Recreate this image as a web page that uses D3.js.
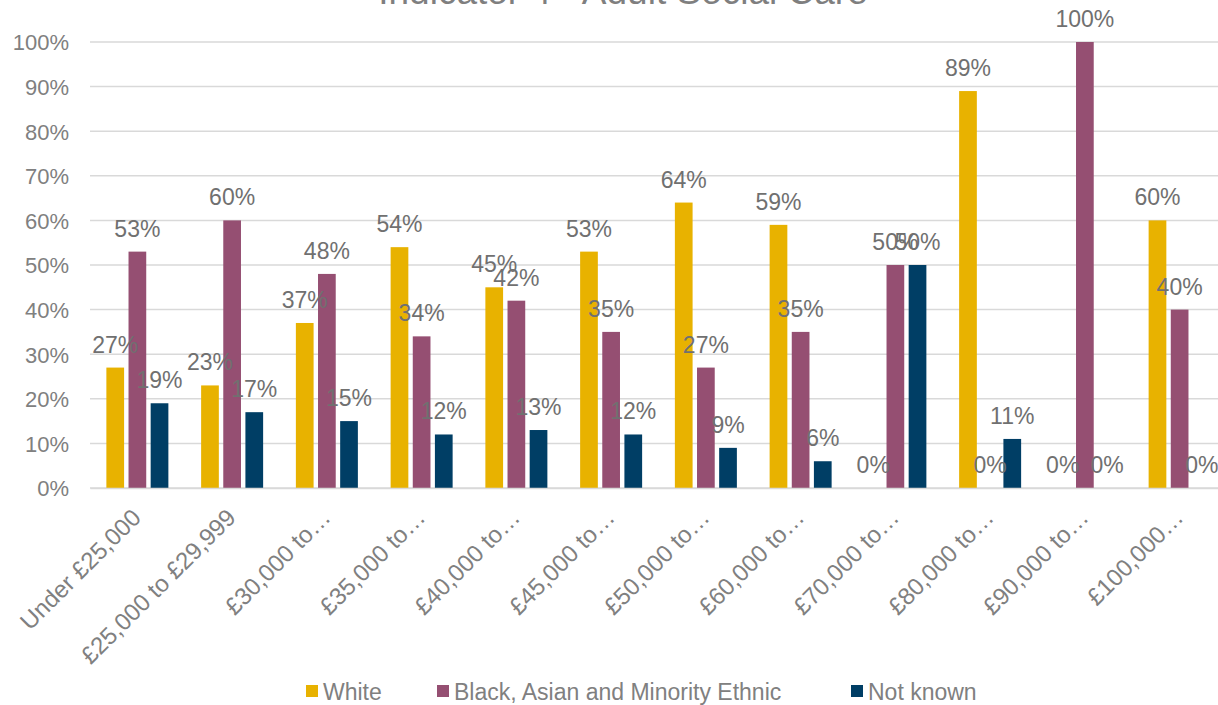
<!DOCTYPE html>
<html><head><meta charset="utf-8">
<script src="https://cdn.jsdelivr.net/npm/d3@7"></script>
<style>body{margin:0;background:#fff;} svg{display:block;font-family:"Liberation Sans",Arial,sans-serif;}</style>
</head><body>
<svg id="c" width="1218" height="705"></svg>
<script>
const title = "Indicator 4 - Adult Social Care";
const categories = ["Under £25,000","£25,000 to £29,999","£30,000 to…","£35,000 to…","£40,000 to…","£45,000 to…","£50,000 to…","£60,000 to…","£70,000 to…","£80,000 to…","£90,000 to…","£100,000…"];
const seriesNames = ["White","Black, Asian and Minority Ethnic","Not known"];
const white = [27,23,37,54,45,53,64,59,0,89,0,60];
const bame = [53,60,48,34,42,35,27,35,50,0,100,40];
const notKnown = [19,17,15,12,13,12,9,6,50,11,0,0];
const yTicks = [0,10,20,30,40,50,60,70,80,90,100];
const colors = ["#E8B200","#954F72","#003E65"];

const series = [white, bame, notKnown];
const svg = d3.select("#c");
const x = d3.scaleBand().domain(categories).range([90, 1227]).paddingInner(0).paddingOuter(0);
const y = d3.scaleLinear().domain([0,100]).range([488, 42]);
const inner = d3.scaleBand().domain([0,1,2]).range([x.bandwidth()/2 - 31, x.bandwidth()/2 + 31]).paddingInner(0.2);

// gridlines
svg.append("g").selectAll("line").data(yTicks).join("line")
  .attr("x1", 90).attr("x2", 1218).attr("y1", d=>y(d)).attr("y2", d=>y(d))
  .attr("stroke", "#d9d9d9").attr("stroke-width", 1.5);

// y axis labels
const yAxis = d3.axisLeft(y).tickValues(yTicks).tickFormat(d=>d+"%").tickSize(0).tickPadding(0);
const yg = svg.append("g").attr("transform","translate(69,0)").call(yAxis);
yg.select(".domain").remove();
yg.selectAll("text").attr("fill","#808080").attr("font-size",22).attr("dy","0.36em")
  .attr("font-family","Liberation Sans, Arial, sans-serif");

// bars
const groups = svg.append("g").selectAll("g").data(categories).join("g")
  .attr("transform", d=>`translate(${x(d)},0)`);
series.forEach((vals, si) => {
  groups.append("rect")
    .attr("x", inner(si)).attr("width", inner.bandwidth())
    .attr("y", (d,i)=>y(vals[i])).attr("height", (d,i)=>y(0)-y(vals[i]))
    .attr("fill", colors[si]);
});
// labels
series.forEach((vals, si) => {
  groups.append("text")
    .attr("x", inner(si) + inner.bandwidth()/2)
    .attr("y", (d,i)=>y(vals[i]) - 15)
    .attr("text-anchor","middle")
    .attr("font-size",23).attr("fill","#707070")
    .text((d,i)=>vals[i]+"%");
});

// x axis
const xAxis = d3.axisBottom(x).tickSize(0).tickPadding(0);
const xg = svg.append("g").attr("transform",`translate(0,${y(0)})`).call(xAxis);
xg.select(".domain").attr("stroke","#d9d9d9").attr("stroke-width",1.5);
xg.selectAll("text").attr("fill","#808080").attr("font-size",24)
  .attr("font-family","Liberation Sans, Arial, sans-serif")
  .attr("text-anchor","end").attr("dy",0)
  .attr("transform","translate(5,31) rotate(-45)");

// title
svg.append("text").attr("x", 623).attr("y", 4).attr("text-anchor","middle")
  .attr("font-size", 37).attr("fill","#7f7f7f").text(title);

// legend
const legX = [306, 437, 851];
const lg = svg.append("g").selectAll("g").data(seriesNames).join("g")
  .attr("transform",(d,i)=>`translate(${legX[i]},0)`);
lg.append("rect").attr("x",0).attr("y",685).attr("width",12).attr("height",12).attr("fill",(d,i)=>colors[i]);
lg.append("text").attr("x",17).attr("y",700).attr("font-size",23).attr("fill","#808080").text(d=>d);
</script>
</body></html>
